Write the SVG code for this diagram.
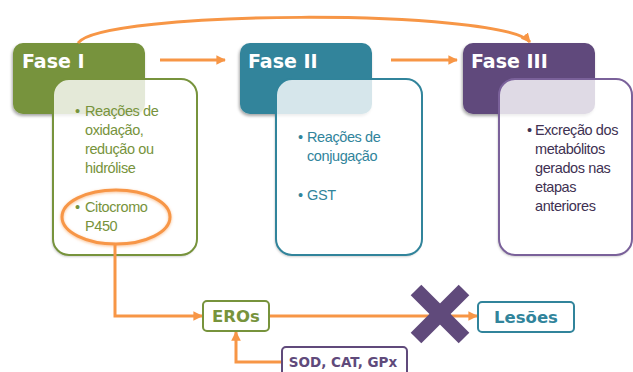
<svg xmlns="http://www.w3.org/2000/svg" width="633" height="372" viewBox="0 0 633 372">
<style>
.hdr-t{font-family:"DejaVu Sans",Verdana,sans-serif;font-weight:bold;font-size:19px;fill:#fff}
.body{fill:#fff;fill-opacity:0.8;stroke-width:2}
.under{fill:#fff;stroke:none}
.bt{font-family:"Liberation Sans",Arial,sans-serif;font-size:14.5px;letter-spacing:-0.4px}
.box-t{font-family:"DejaVu Sans",Verdana,sans-serif;font-weight:bold;text-anchor:middle}
.conn{fill:none;stroke:#F79646;stroke-width:3}
</style>
<defs>
<filter id="sh" x="-20%" y="-20%" width="140%" height="140%">
<feDropShadow dx="-1" dy="2" stdDeviation="1.5" flood-color="#000" flood-opacity="0.35"/>
</filter>
<filter id="sh2" x="-20%" y="-20%" width="140%" height="140%">
<feDropShadow dx="-1" dy="1.5" stdDeviation="1.2" flood-color="#000" flood-opacity="0.25"/>
</filter>
<filter id="glow" x="-20%" y="-30%" width="140%" height="160%">
<feDropShadow dx="0" dy="1" stdDeviation="1.5" flood-color="#F79646" flood-opacity="0.6"/>
</filter>
<marker id="ah" viewBox="0 0 10 10" refX="9" refY="5" markerWidth="3.2" markerHeight="3.2" orient="auto" markerUnits="strokeWidth">
<path d="M0,0 L10,5 L0,10 z" fill="#F79646"/>
</marker>
</defs>

<g id="fase1">
<rect class="under" x="53" y="79" width="144" height="176" rx="16" filter="url(#sh2)"/>
<rect x="13" y="43" width="132" height="71" rx="10" fill="#77933C" filter="url(#sh)"/>
<text class="hdr-t" x="22" y="68">Fase I</text>
<rect class="body" x="53" y="79" width="144" height="176" rx="16" stroke="#77933C"/>
<g class="bt" fill="#77933C">
<text x="75" y="116">•</text>
<text x="85" y="116">Reações de</text>
<text x="85" y="135">oxidação,</text>
<text x="85" y="154">redução ou</text>
<text x="85" y="173">hidrólise</text>
<text x="75" y="212">•</text>
<text x="85" y="212">Citocromo</text>
<text x="85" y="231">P450</text>
</g>
<ellipse cx="116" cy="217" rx="54" ry="27" fill="none" stroke="#F79646" stroke-width="3" filter="url(#glow)"/>
</g>

<g id="fase2">
<rect class="under" x="276" y="79" width="146" height="176" rx="16" filter="url(#sh2)"/>
<rect x="240" y="43" width="132" height="71" rx="10" fill="#31849B" filter="url(#sh)"/>
<text class="hdr-t" x="248" y="68">Fase II</text>
<rect class="body" x="276" y="79" width="146" height="176" rx="16" stroke="#31849B"/>
<g class="bt" fill="#31849B">
<text x="298" y="142">•</text>
<text x="307" y="142">Reações de</text>
<text x="307" y="161">conjugação</text>
<text x="298" y="200">•</text>
<text x="307" y="200">GST</text>
</g>
</g>

<g id="fase3">
<rect class="under" x="499" y="79" width="133" height="176" rx="16" filter="url(#sh2)"/>
<rect x="463" y="43" width="132" height="71" rx="10" fill="#604A7B" filter="url(#sh)"/>
<text class="hdr-t" x="471" y="68">Fase III</text>
<rect class="body" x="499" y="79" width="133" height="176" rx="16" stroke="#7A619A"/>
<g class="bt" fill="#403152">
<text x="527" y="135">•</text>
<text x="535" y="135">Excreção dos</text>
<text x="535" y="154">metabólitos</text>
<text x="535" y="173">gerados nas</text>
<text x="535" y="192">etapas</text>
<text x="535" y="211">anteriores</text>
</g>
</g>

<g id="connectors">
<path class="conn" d="M78,43 C100,10 500,8 530,42" stroke-width="2.5" marker-end="url(#ah)"/>
<line class="conn" x1="160" y1="60" x2="225" y2="60" marker-end="url(#ah)"/>
<line class="conn" x1="391" y1="60" x2="457" y2="60" marker-end="url(#ah)"/>
<path class="conn" d="M115,245 L115,316 L202,316" marker-end="url(#ah)"/>
<line class="conn" x1="269" y1="316" x2="477" y2="316" marker-end="url(#ah)"/>
<path class="conn" d="M282,362 L236,362 L236,332" marker-end="url(#ah)"/>
</g>

<g id="eros">
<rect x="203" y="301" width="66" height="30" rx="4" fill="#fff" stroke="#77933C" stroke-width="2"/>
<text class="box-t" x="236" y="322" font-size="16.5" fill="#77933C">EROs</text>
</g>

<g id="lesoes">
<rect x="478" y="302" width="96" height="30" rx="4" fill="#fff" stroke="#31849B" stroke-width="2"/>
<text class="box-t" x="526" y="323" font-size="16.5" fill="#31849B">Lesões</text>
</g>

<g id="sod">
<rect x="282" y="347" width="125" height="40" rx="4" fill="#fff" stroke="#604A7B" stroke-width="2"/>
<text class="box-t" x="343" y="367" font-size="13.5" fill="#604A7B">SOD, CAT, GPx</text>
</g>

<g id="cross">
<line x1="416" y1="290" x2="464" y2="338" stroke="#604A7B" stroke-width="15"/>
<line x1="464" y1="290" x2="416" y2="338" stroke="#604A7B" stroke-width="15"/>
</g>
</svg>
